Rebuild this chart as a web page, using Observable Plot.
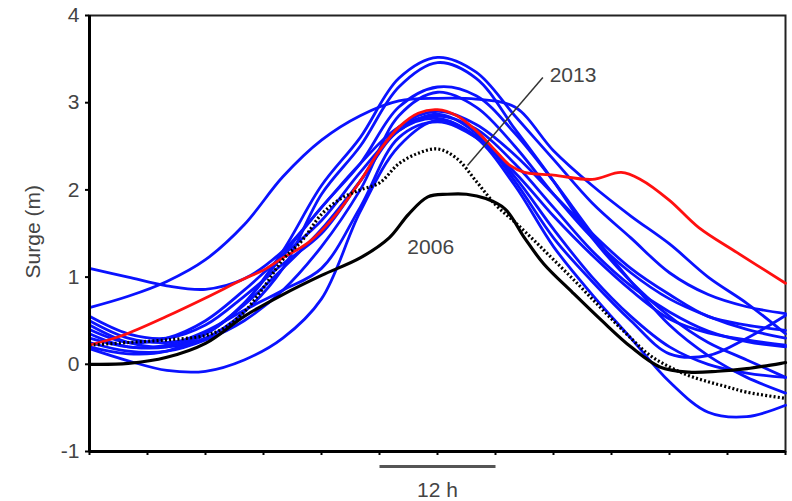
<!DOCTYPE html>
<html>
<head>
<meta charset="utf-8">
<script src="https://cdn.jsdelivr.net/npm/d3@7"></script>
<script src="https://cdn.jsdelivr.net/npm/@observablehq/plot@0.6"></script>
<style>
  html, body { margin: 0; padding: 0; background: #fff; }
  #chart svg { display: block; }
</style>
</head>
<body>
<div id="chart"></div>
<script>
// ---- data (hours since start, surge in metres) ----
const gridHours = [0, 4, 8, 12, 16, 20, 24, 28, 32, 36, 40, 44, 48, 52, 56, 60, 64, 68, 72];

const blue01 = [1.10, 1.00, 0.90, 0.86, 0.98, 1.30, 1.80, 2.30, 2.72, 2.85, 2.70, 2.30, 1.80, 1.30, 0.90, 0.60, 0.38, 0.26, 0.20];
const blue02 = [0.65, 0.78, 0.95, 1.20, 1.60, 2.15, 2.57, 2.85, 3.02, 3.05, 3.04, 2.95, 2.45, 2.05, 1.70, 1.38, 1.00, 0.70, 0.35];
const blue03 = [0.50, 0.30, 0.25, 0.35, 0.70, 1.30, 2.05, 2.60, 3.28, 3.52, 3.35, 2.85, 2.35, 1.85, 1.45, 1.05, 0.80, 0.66, 0.58];
const blue04 = [0.45, 0.25, 0.20, 0.30, 0.60, 1.10, 1.95, 2.50, 3.18, 3.46, 3.28, 2.70, 2.10, 1.45, 0.95, 0.55, 0.25, 0.05, -0.15];
const blue05 = [0.30, 0.20, 0.20, 0.35, 0.70, 1.25, 1.80, 2.30, 2.95, 3.18, 3.08, 2.65, 2.10, 1.50, 0.95, 0.45, 0.10, -0.15, -0.33];
const blue06 = [0.25, 0.15, 0.15, 0.28, 0.50, 0.85, 1.35, 2.00, 2.85, 3.12, 2.95, 2.50, 1.95, 1.45, 1.05, 0.75, 0.55, 0.40, 0.30];
const blue07 = [0.40, 0.25, 0.30, 0.50, 0.85, 1.25, 1.65, 2.20, 2.68, 2.87, 2.65, 2.10, 1.45, 0.95, 0.50, 0.12, 0.10, 0.30, 0.56];
const blue08 = [0.20, 0.12, 0.15, 0.35, 0.68, 1.10, 1.55, 2.10, 2.68, 2.82, 2.60, 2.05, 1.35, 0.80, 0.30, -0.20, -0.55, -0.60, -0.47];
const blue09 = [0.18, 0.04, -0.07, -0.08, 0.05, 0.30, 0.75, 1.75, 2.50, 2.80, 2.62, 2.15, 1.55, 1.00, 0.55, 0.20, 0.00, -0.10, -0.15];
const blue10 = [0.35, 0.20, 0.22, 0.38, 0.62, 0.85, 1.10, 1.80, 2.60, 2.78, 2.60, 2.20, 1.70, 1.25, 0.85, 0.52, 0.36, 0.28, 0.22];
const blue11 = [0.55, 0.35, 0.30, 0.45, 0.78, 1.15, 1.50, 2.10, 2.72, 2.90, 2.75, 2.40, 1.95, 1.50, 1.10, 0.80, 0.55, 0.45, 0.39];

const redHours = [0, 3.4, 8, 12, 16, 18, 20, 22.7, 25.3, 28, 30, 32, 34, 36, 38, 40, 42, 43.5, 45, 48, 52, 55, 57, 60, 63, 67, 72];
const redValues = [0.22, 0.33, 0.55, 0.76, 0.98, 1.08, 1.22, 1.40, 1.69, 2.10, 2.45, 2.72, 2.88, 2.92, 2.85, 2.68, 2.45, 2.28, 2.20, 2.17, 2.12, 2.20, 2.12, 1.88, 1.57, 1.28, 0.93];

const hours2006 = [0, 4, 8, 12, 16, 20, 24, 28, 31, 33, 35, 37, 39, 41, 43, 45, 47, 50, 53, 56, 59, 62, 65, 68, 72];
const surge2006 = [0, 0.01, 0.08, 0.24, 0.55, 0.80, 1.02, 1.22, 1.45, 1.72, 1.92, 1.95, 1.95, 1.90, 1.78, 1.45, 1.15, 0.82, 0.50, 0.20, -0.03, -0.09, -0.08, -0.05, 0.02];

const hours2013 = [0, 4, 8, 12, 14, 16, 18, 20, 22, 24, 26, 28, 30, 32, 34, 36, 38, 40, 42, 44, 46, 48, 50, 52, 54, 56, 58, 60, 62, 64, 66, 68, 72];
const surge2013 = [0.22, 0.25, 0.28, 0.33, 0.42, 0.60, 0.88, 1.20, 1.42, 1.72, 1.90, 2.00, 2.08, 2.30, 2.42, 2.47, 2.36, 2.10, 1.83, 1.63, 1.42, 1.20, 0.98, 0.75, 0.52, 0.30, 0.10, -0.03, -0.13, -0.20, -0.26, -0.32, -0.39];

const yTicks = [-1, 0, 1, 2, 3, 4];
const xTicks = [0, 6, 12, 18, 24, 30, 36, 42, 48, 54, 60, 66, 72];
const yLabel = [{h: -5.8, m: 1.52, text: "Surge (m)"}];
const scaleBar = [{from: 30, to: 42, label: "12 h"}];
const label2013 = [{h: 47.6, m: 3.31, text: "2013"}];
const label2006 = [{h: 35.3, m: 1.34, text: "2006"}];
const leader = [{h1: 46.9, m1: 3.29, h2: 39.1, m2: 2.28}];

// ---- build tables ----
const blueSets = [blue01, blue02, blue03, blue04, blue05, blue06, blue07, blue08, blue09, blue10, blue11];
const blueRows = blueSets.flatMap((vals, i) => vals.map((v, j) => ({h: gridHours[j], m: v, id: "b" + i})));
const redRows = redHours.map((h, i) => ({h, m: redValues[i]}));
const rows2006 = hours2006.map((h, i) => ({h, m: surge2006[i]}));
const rows2013 = hours2013.map((h, i) => ({h, m: surge2013[i]}));

const textColor = "#444";
const font = "'Liberation Sans', Arial, sans-serif";
const fs = 21;

const chart = Plot.plot({
  width: 792,
  height: 501,
  marginLeft: 89,
  marginRight: 7,
  marginTop: 15,
  marginBottom: 50,
  style: {fontFamily: font, fontSize: fs + "px", color: textColor, background: "#fff"},
  x: {domain: [0, 72]},
  y: {domain: [-1, 4]},
  marks: [
    Plot.frame({stroke: "#222", strokeWidth: 2}),
    Plot.line(blueRows, {x: "h", y: "m", z: "id", stroke: "#0a12ff", strokeWidth: 2.8, curve: "catmull-rom"}),
    Plot.line(redRows, {x: "h", y: "m", stroke: "#ff1010", strokeWidth: 2.8, curve: "catmull-rom"}),
    Plot.line(rows2013, {x: "h", y: "m", stroke: "#000", strokeWidth: 3.2, strokeDasharray: "2,2.2", strokeLinecap: "butt", curve: "catmull-rom"}),
    Plot.line(rows2006, {x: "h", y: "m", stroke: "#000", strokeWidth: 3.2, curve: "catmull-rom"}),
    Plot.link(leader, {x1: "h1", y1: "m1", x2: "h2", y2: "m2", stroke: "#333", strokeWidth: 1.5}),
    Plot.text(label2013, {x: "h", y: "m", text: "text", textAnchor: "start", fontSize: fs, fill: textColor}),
    Plot.text(label2006, {x: "h", y: "m", text: "text", textAnchor: "middle", fontSize: fs, fill: textColor}),
    Plot.ruleX([0], {stroke: "#000", strokeWidth: 3}),
    Plot.ruleY([-1], {stroke: "#000", strokeWidth: 3}),
    Plot.axisY({ticks: yTicks, tickSize: 4, tickPadding: 6, tickFormat: d => String(d), fontSize: fs,
      label: null, stroke: "#000", strokeWidth: 2}),
    Plot.axisX({ticks: xTicks, tickSize: 4, tickFormat: () => "", label: null, stroke: "#000", strokeWidth: 2}),
    Plot.text(yLabel, {x: "h", y: "m", text: "text", rotate: -90, fontSize: fs, fill: textColor}),
    Plot.link(scaleBar, {x1: "from", x2: "to", y1: () => -1, y2: () => -1, dy: 15, stroke: "#555", strokeWidth: 3}),
    Plot.text(scaleBar, {x: d => (d.from + d.to) / 2, y: () => -1, dy: 39, text: "label", fontSize: fs, fill: textColor})
  ]
});
document.getElementById("chart").appendChild(chart);
</script>
</body>
</html>
